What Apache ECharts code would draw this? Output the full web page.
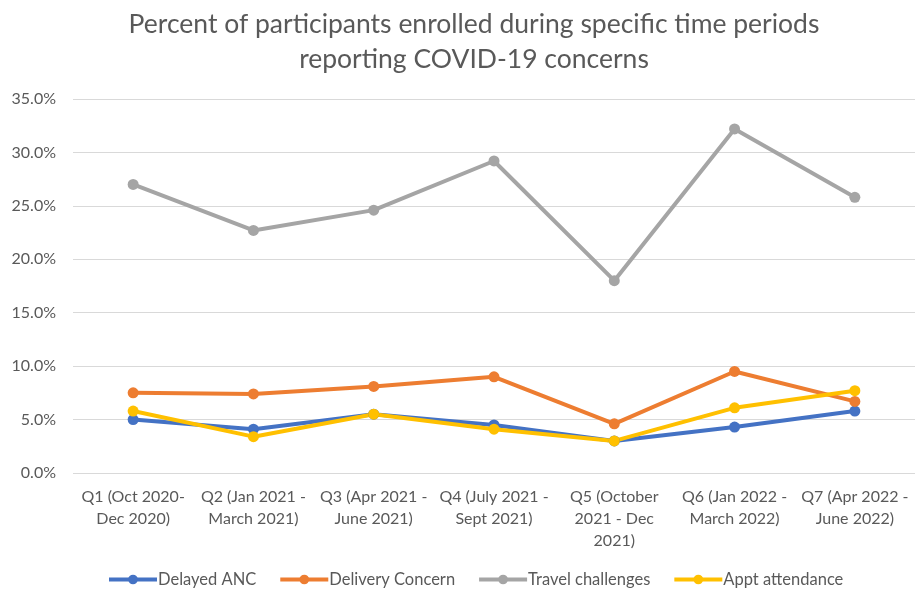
<!DOCTYPE html>
<html><head><meta charset="utf-8">
<script src="https://cdn.jsdelivr.net/npm/echarts@6/dist/echarts.min.js"></script>
<style>html,body{margin:0;padding:0;background:#fff}#c{width:915px;height:592px}</style>
</head><body><div id="c"></div>
<script>
const categories = [
  "Q1 (Oct 2020-\nDec 2020)",
  "Q2 (Jan 2021 -\nMarch 2021)",
  "Q3 (Apr 2021 -\nJune 2021)",
  "Q4 (July 2021 -\nSept 2021)",
  "Q5 (October\n2021 - Dec\n2021)",
  "Q6 (Jan 2022 -\nMarch 2022)",
  "Q7 (Apr 2022 -\nJune 2022)"
];
const delayedANC = [5.0, 4.1, 5.5, 4.5, 3.0, 4.3, 5.8];
const deliveryConcern = [7.5, 7.4, 8.1, 9.0, 4.6, 9.5, 6.7];
const travelChallenges = [27.0, 22.7, 24.6, 29.2, 18.0, 32.2, 25.8];
const apptAttendance = [5.8, 3.4, 5.5, 4.1, 3.0, 6.1, 7.7];
const titleText = "Percent of participants enrolled during specific time periods\nreporting COVID-19 concerns";

const FONT = "Lato";
const TXT = "#595959";
function mk(name, data, color) {
  return {
    name, type: "line", data,
    symbol: "circle", symbolSize: 11,
    lineStyle: { width: 4, color },
    itemStyle: { color },
    emphasis: { disabled: true }
  };
}
const chart = echarts.init(document.getElementById("c"), null, { renderer: "canvas" });
chart.setOption({
  animation: false,
  textStyle: { fontFamily: FONT },
  title: {
    text: titleText, left: 469, top: 2, textAlign: "center",
    textStyle: { fontFamily: FONT, fontSize: 26.5, fontWeight: "normal", color: TXT, lineHeight: 35 }
  },
  grid: { left: 73, right: 0, top: 99, bottom: 119, containLabel: false },
  xAxis: {
    type: "category", data: categories, boundaryGap: true,
    axisLine: { show: false }, axisTick: { show: false },
    axisLabel: { color: TXT, fontSize: 16, fontFamily: FONT, margin: 13, lineHeight: 22, interval: 0 }
  },
  yAxis: {
    type: "value", min: 0, max: 35, interval: 5,
    axisLabel: { color: TXT, fontSize: 16, fontFamily: FONT, margin: 17, formatter: v => v.toFixed(1) + "%" },
    splitLine: { lineStyle: { color: "#d9d9d9", width: 1 } },
    axisLine: { show: false }, axisTick: { show: false }
  },
  legend: {
    top: 566, left: 102, itemWidth: 48, itemHeight: 12, itemGap: 22,
    lineStyle: { width: 4 },
    textStyle: { color: TXT, fontSize: 16.5, fontFamily: FONT, padding: [0, 0, 0, -4] },
    data: ["Delayed ANC", "Delivery Concern", "Travel challenges", "Appt attendance"]
  },
  series: [
    mk("Delayed ANC", delayedANC, "#4472c4"),
    mk("Delivery Concern", deliveryConcern, "#ed7d31"),
    mk("Travel challenges", travelChallenges, "#a5a5a5"),
    mk("Appt attendance", apptAttendance, "#ffc000")
  ]
});
</script></body></html>
